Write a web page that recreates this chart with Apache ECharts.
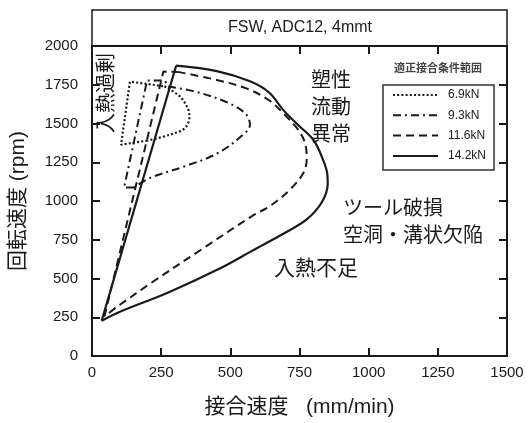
<!DOCTYPE html>
<html>
<head>
<meta charset="utf-8">
<script src="https://cdn.jsdelivr.net/npm/echarts@6/dist/echarts.min.js"></script>
<style>
html,body{margin:0;padding:0;background:#fff;}
#chart{width:532px;height:423px;}
</style>
</head>
<body>
<div id="chart"></div>
<script>
// ---- data (接合速度 mm/min, 回転速度 rpm) ----
const seriesNames = ['6.9kN', '9.3kN', '11.6kN', '14.2kN'];

// 6.9kN (dotted)
const edge69 = [[200,1390],[105,1363],[137,1770],[262,1740]];
const arc69  = [[262,1740],[318,1674],[348,1590],[352,1545],[336,1471],[282,1428],[200,1390]];

// 9.3kN (dash-dot)
const edge93 = [[152,1087],[116,1087],[199,1777],[264,1777],[275,1738]];
const arc93  = [[275,1738],[372,1706],[481,1642],[553,1567],[571,1492],[553,1439],[456,1310],[336,1224],[210,1149],[152,1087]];

// 11.6kN (dashed)
const edge116 = [[45,255],[258,1835],[310,1833]];
const arc116  = [[310,1833],[451,1781],[560,1725],[640,1650],[700,1550],[745,1460],[770,1374],[776,1267],[764,1181],[716,1074],[643,967],[585,910],[396,688],[216,474],[95,323],[45,255]];

// 14.2kN (solid)
const edge142 = [[35,227],[304,1873]];
const arc142  = [[304,1873],[451,1838],[571,1772],[640,1700],[691,1588],[745,1490],[800,1395],[830,1288],[850,1180],[852,1110],[830,990],[776,881],[698,795],[580,680],[456,559],[276,410],[95,281],[35,227]];

const xAxisName = '接合速度   (mm/min)';
const yAxisName = '回転速度 (rpm)';
const chartTitle = 'FSW, ADC12, 4mmt';
const legendTitle = '適正接合条件範囲';

// ---- chart ----
const FONT = '"Liberation Sans", "Noto Sans CJK JP", sans-serif';
const INK = '#1a1a1a';
const styles = {
  '6.9kN':  {type: [2, 2.2], width: 2.2},
  '9.3kN':  {type: [8, 4, 2, 4], width: 2},
  '11.6kN': {type: [8, 5], width: 2},
  '14.2kN': {type: 'solid', width: 2.2}
};
const shapes = [
  ['6.9kN', edge69, arc69],
  ['9.3kN', edge93, arc93],
  ['11.6kN', edge116, arc116],
  ['14.2kN', edge142, arc142]
];
const series = [];
shapes.forEach(([name, edge, arc]) => {
  const ls = Object.assign({color: INK}, styles[name]);
  series.push({name, type: 'line', data: edge, symbol: 'none', smooth: false,
    lineStyle: ls, itemStyle: {color: INK}, silent: true, animation: false});
  series.push({name, type: 'line', data: arc, symbol: 'none', smooth: 0.35,
    lineStyle: ls, itemStyle: {color: INK}, silent: true, animation: false});
});

const axisCommon = {
  type: 'value',
  axisLine: {show: true, onZero: false, lineStyle: {color: INK, width: 2}},
  axisTick: {show: true, inside: true, length: 8, lineStyle: {color: INK, width: 2}},
  splitLine: {show: false}
};
const plain = v => String(v);

const chart = echarts.init(document.getElementById('chart'), null, {renderer: 'canvas'});
chart.setOption({
  backgroundColor: '#fff',
  animation: false,
  textStyle: {fontFamily: FONT},
  grid: {left: 92, right: 25, top: 46, bottom: 66, show: false},
  xAxis: [
    Object.assign({}, axisCommon, {
      position: 'bottom', min: 0, max: 1500, interval: 250,
      axisLabel: {fontSize: 15, color: INK, margin: 9, fontFamily: FONT, formatter: plain},
      name: xAxisName, nameLocation: 'middle', nameGap: 41,
      nameTextStyle: {fontSize: 21, color: INK, fontFamily: FONT}
    }),
    Object.assign({}, axisCommon, {
      position: 'top', min: 0, max: 1500, interval: 250,
      axisLabel: {show: false}
    })
  ],
  yAxis: [
    Object.assign({}, axisCommon, {
      position: 'left', min: 0, max: 2000, interval: 250,
      axisLabel: {fontSize: 15, color: INK, margin: 14, fontFamily: FONT, formatter: plain},
      name: yAxisName, nameLocation: 'middle', nameGap: 63,
      nameTextStyle: {fontSize: 21, color: INK, fontFamily: FONT}
    }),
    Object.assign({}, axisCommon, {
      position: 'right', min: 0, max: 2000, interval: 250,
      axisLabel: {show: false}
    })
  ],
  legend: {
    data: seriesNames,
    orient: 'vertical',
    left: 383, top: 85,
    padding: [4, 8, 8, 9],
    itemWidth: 45, itemHeight: 14, itemGap: 8.3,
    borderColor: '#333', borderWidth: 1.5,
    selectedMode: false,
    itemStyle: {opacity: 0},
    textStyle: {fontSize: 12, color: INK, fontFamily: FONT, padding: [0, 0, 0, 5]}
  },
  graphic: [
    {type: 'rect', silent: true, shape: {x: 92, y: 10, width: 415, height: 36},
     style: {fill: 'none', stroke: INK, lineWidth: 1.5}},
    {type: 'text', silent: true, x: 300, y: 28,
     style: {text: chartTitle, fontSize: 16, fontFamily: FONT, fill: INK, align: 'center', verticalAlign: 'middle'}},
    {type: 'text', silent: true, x: 438, y: 69,
     style: {text: legendTitle, fontSize: 11, fontWeight: 'bold', fontFamily: FONT, fill: '#444', align: 'center', verticalAlign: 'middle'}},
    {type: 'text', silent: true, x: 311, y: 108,
     style: {text: '塑性\n流動\n異常', fontSize: 20, lineHeight: 27, fontFamily: FONT, fill: INK, align: 'left', verticalAlign: 'middle'}},
    {type: 'text', silent: true, x: 107, y: 93, rotation: Math.PI / 2,
     style: {text: '入熱過剰', fontSize: 20, fontFamily: FONT, fill: INK, align: 'center', verticalAlign: 'middle'}},
    {type: 'text', silent: true, x: 343, y: 223,
     style: {text: 'ツール破損\n空洞・溝状欠陥', fontSize: 20, lineHeight: 27, fontFamily: FONT, fill: INK, align: 'left', verticalAlign: 'middle'}},
    {type: 'text', silent: true, x: 274, y: 269,
     style: {text: '入熱不足', fontSize: 21, fontFamily: FONT, fill: INK, align: 'left', verticalAlign: 'middle'}}
  ],
  series: series
});
</script>
</body>
</html>
